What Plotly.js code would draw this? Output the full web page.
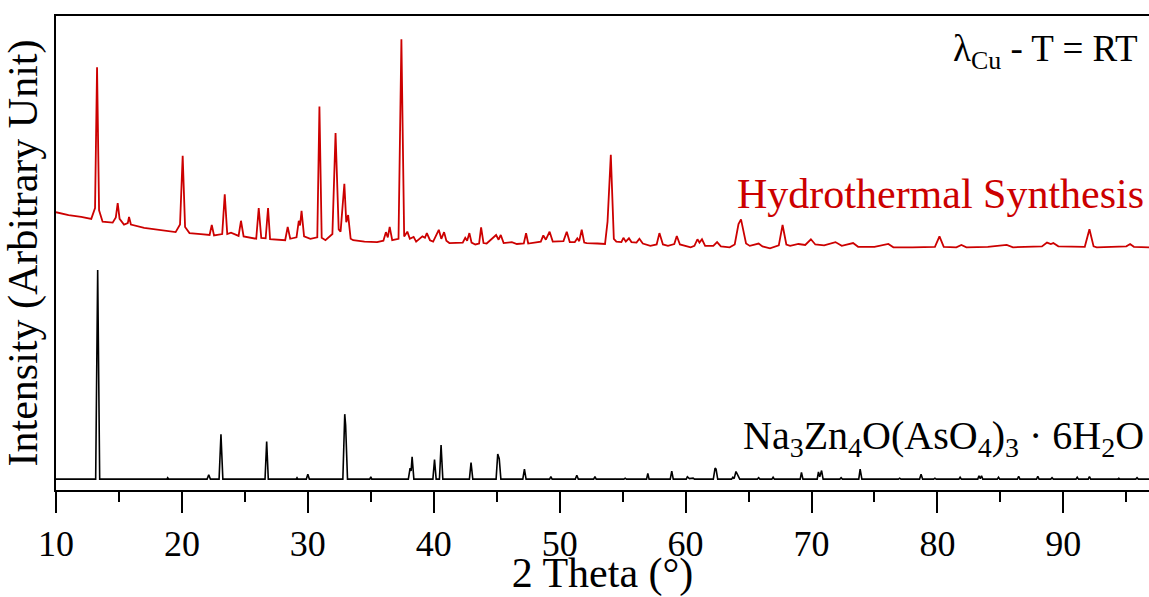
<!DOCTYPE html>
<html>
<head>
<meta charset="utf-8">
<script src="https://cdn.plot.ly/plotly-3.0.1.min.js"></script>
<style>html,body{margin:0;padding:0;background:#fff;}#chart{width:1149px;height:597px;}</style>
</head>
<body>
<div id="chart"></div>
<script>
// Experimental pattern (Hydrothermal Synthesis), 2θ in degrees / arbitrary intensity
const redX = [
  10.0,11.0,12.0,12.8,13.1,13.26,13.42,13.7,14.5,14.75,14.9,15.05,15.4,15.7,15.8,15.95,
  17.0,18.5,19.5,19.85,20.06,20.25,20.6,21.5,22.2,22.37,22.55,23.2,23.4,23.6,23.9,
  24.5,24.69,24.9,25.9,26.1,26.3,26.65,26.84,27.0,28.2,28.4,28.6,29.1,29.28,29.38,29.5,29.7,
  30.2,30.75,30.92,31.1,31.4,31.95,32.2,32.45,32.6,32.9,33.05,33.2,33.4,33.6,
  34.5,35.5,36.0,36.2,36.35,36.5,36.7,37.2,37.43,37.65,37.9,38.1,38.4,38.6,39.1,39.3,39.45,39.7,39.95,
  40.4,40.6,40.82,41.0,41.24,42.3,42.5,42.65,42.83,43.0,43.3,43.6,43.76,43.95,44.2,44.95,45.15,45.32,45.55,
  46.2,46.6,47.15,47.33,47.5,48.5,48.7,48.9,49.2,49.45,49.8,50.3,50.56,50.8,51.2,51.4,51.55,51.75,51.95,52.15,
  53.0,53.6,53.8,54.06,54.3,54.5,54.9,55.06,55.25,55.5,55.7,56.1,56.33,56.6,57.2,
  57.7,57.92,58.2,58.6,59.1,59.3,59.55,60.4,60.7,60.94,61.1,61.3,61.55,62.2,62.5,62.8,63.5,
  63.9,64.2,64.4,64.8,65.1,65.8,66.1,66.7,67.4,67.7,68.0,68.3,68.96,69.5,69.95,70.3,
  71.0,71.9,72.4,73.3,73.7,75.0,76.1,76.5,78.0,79.8,80.16,80.5,81.5,81.9,82.3,84.0,85.5,86.0,88.3,88.7,89.0,89.2,89.6,91.7,92.07,92.4,92.65,95.0,95.3,95.6,96.8
];
const redY = [
  58.6,58.0,57.6,57.2,59.5,89.2,59.0,56.6,56.4,57.5,60.5,57.2,56.0,56.3,57.6,56.0,
  55.3,54.8,54.4,56.0,70.5,55.5,54.2,54.0,53.8,55.9,53.7,54.0,62.4,54.0,54.3,
  53.6,56.8,53.5,53.0,59.5,53.2,53.1,59.5,52.9,52.7,55.5,53.0,53.3,56.8,55.8,58.9,53.5,
  53.0,53.3,80.9,53.2,52.7,54.0,75.3,55.0,54.5,64.6,56.5,58.0,53.0,52.7,
  52.4,52.3,52.6,54.4,53.3,55.5,52.7,53.0,95.1,53.5,54.5,53.0,53.4,52.4,53.5,53.2,54.2,52.7,52.4,
  54.9,53.0,54.4,52.6,52.1,52.2,53.2,52.6,54.2,52.2,51.8,52.0,55.4,52.1,52.0,53.8,52.8,53.8,52.1,
  52.3,51.9,52.0,54.2,52.0,52.4,53.7,52.8,54.5,52.4,52.4,52.5,54.5,52.3,52.3,53.1,52.5,54.9,52.2,52.1,
  52.0,51.9,56.6,70.7,53.0,52.4,52.3,53.2,52.4,53.1,52.3,52.2,53.0,52.0,51.5,
  51.8,54.2,51.8,51.5,51.9,53.6,51.8,51.2,51.5,52.9,52.2,52.9,51.5,51.5,52.3,51.4,51.2,
  51.8,56.1,57.1,52.0,51.5,52.0,51.4,51.0,51.6,55.9,51.8,51.5,51.9,51.7,52.9,51.8,
  51.6,52.3,51.5,52.1,51.3,51.3,51.9,51.2,51.2,51.3,53.5,51.3,51.2,51.7,51.2,51.3,51.7,51.2,51.4,52.2,51.9,52.1,51.4,51.3,55.0,51.4,51.2,51.4,51.9,51.3,51.2
];
// Calculated pattern Na3Zn4O(AsO4)3·6H2O
const blackX = [
  10,13.15,13.31,13.47,18.8,18.87,18.95,22.0,22.13,22.26,22.95,23.1,23.25,
  26.6,26.73,26.86,29.07,29.14,29.21,29.88,30.0,30.12,32.78,32.93,33.0,33.15,
  34.92,35.0,35.08,37.98,38.12,38.2,38.28,38.42,39.93,40.06,40.19,40.45,40.58,40.72,
  42.83,42.96,43.1,44.95,45.08,45.2,45.33,47.07,47.2,47.33,49.2,49.3,49.4,
  51.24,51.36,51.48,52.7,52.8,52.9,55.1,55.2,55.3,56.9,57.0,57.1,58.78,58.9,59.02,
  60.05,60.14,60.3,60.6,60.7,62.2,62.34,62.42,62.55,63.65,63.75,63.85,64.0,64.2,64.3,
  65.7,65.8,65.9,66.85,66.95,67.05,69.1,69.2,69.32,70.45,70.55,70.65,70.8,70.92,72.25,72.35,72.45,73.75,73.86,74.0,
  76.9,77.0,77.1,78.58,78.7,78.82,79.7,79.8,79.9,81.7,81.8,81.9,83.2,83.3,83.4,83.5,83.6,
  84.75,84.85,84.95,86.35,86.45,86.55,87.87,87.97,88.07,89.0,89.1,89.2,91.0,91.1,91.2,91.97,92.07,92.17,94.3,94.4,94.5,95.75,95.85,95.95,96.8
];
const blackY = [
  2.3,2.3,46.4,2.3,2.3,2.6,2.3,2.3,3.2,2.3,2.3,11.75,2.3,
  2.3,10.2,2.3,2.3,2.6,2.3,2.3,3.3,2.3,2.3,16.0,13.7,2.3,
  2.3,2.8,2.3,2.3,4.6,4.0,7.0,2.3,2.3,6.4,2.3,2.3,9.5,2.3,
  2.3,5.8,2.3,2.3,7.6,6.6,2.3,2.3,4.4,2.3,2.3,2.8,2.3,
  2.3,3.1,2.3,2.3,2.8,2.3,2.3,2.5,2.3,2.3,3.5,2.3,2.3,4.0,2.3,
  2.3,2.8,2.4,2.5,2.3,2.3,4.6,4.4,2.3,2.3,2.7,2.4,3.9,3.0,2.3,
  2.3,2.6,2.3,2.3,2.7,2.3,2.3,3.7,2.3,2.3,3.8,2.8,4.1,2.3,2.3,2.6,2.3,2.3,4.4,2.3,
  2.3,2.5,2.3,2.3,3.3,2.3,2.3,2.5,2.3,2.3,2.7,2.3,2.3,3.0,2.4,3.0,2.3,
  2.3,2.7,2.3,2.3,2.9,2.3,2.3,2.9,2.3,2.3,2.6,2.3,2.3,2.7,2.3,2.3,2.8,2.3,2.3,2.5,2.3,2.3,2.6,2.3,2.3
];
const xTickVals = [10,20,30,40,50,60,70,80,90];
const labelExp = 'Hydrothermal Synthesis';
const labelCalc = 'Na<sub>3</sub>Zn<sub>4</sub>O(AsO<sub>4</sub>)<sub>3</sub> · 6H<sub>2</sub>O';
const labelCond = 'λ<sub>Cu</sub> - T = RT';

const RED = 'rgb(204,0,0)';
const FONT = 'Liberation Serif, Times New Roman, serif';

const traces = [
  {x: blackX, y: blackY, type: 'scatter', mode: 'lines', line: {color: '#000', width: 1.6}, hoverinfo: 'skip'},
  {x: redX, y: redY, type: 'scatter', mode: 'lines', line: {color: RED, width: 1.8}, hoverinfo: 'skip'}
];

const layout = {
  width: 1149, height: 597,
  margin: {l: 56, r: 0, t: 16, b: 107, pad: 0},
  paper_bgcolor: '#fff', plot_bgcolor: '#fff',
  showlegend: false,
  font: {family: FONT, color: '#000'},
  xaxis: {
    range: [10, 96.8], tickmode: 'array', tickvals: xTickVals,
    ticks: 'outside', ticklen: 21, tickwidth: 2, tickcolor: '#000',
    minor: {dtick: 5, tick0: 10, ticks: 'outside', ticklen: 10, tickwidth: 2, tickcolor: '#000'},
    showline: true, linecolor: '#000', linewidth: 2, mirror: true,
    showgrid: false, zeroline: false,
    tickfont: {family: FONT, size: 36, color: '#000'},
    title: {text: '2 Theta (°)', font: {family: FONT, size: 42, color: '#000'}, standoff: 2}
  },
  yaxis: {
    range: [0, 100], showticklabels: false, ticks: '',
    showline: true, linecolor: '#000', linewidth: 2, mirror: false,
    showgrid: false, zeroline: false,
    title: {text: 'Intensity (Arbitrary Unit)', font: {family: FONT, size: 42, color: '#000'}, standoff: 4}
  },
  annotations: [
    {xref: 'paper', yref: 'paper', x: 0.992, y: 0.925, xanchor: 'right', yanchor: 'middle', showarrow: false,
     text: labelCond, font: {family: FONT, size: 37, color: '#000'}},
    {xref: 'paper', yref: 'paper', x: 0.997, y: 0.625, xanchor: 'right', yanchor: 'middle', showarrow: false,
     text: labelExp, font: {family: FONT, size: 42, color: RED}},
    {xref: 'paper', yref: 'paper', x: 0.997, y: 0.11, xanchor: 'right', yanchor: 'middle', showarrow: false,
     text: labelCalc, font: {family: FONT, size: 40, color: '#000'}}
  ]
};

Plotly.newPlot('chart', traces, layout, {displayModeBar: false, staticPlot: true});
</script>
</body>
</html>
